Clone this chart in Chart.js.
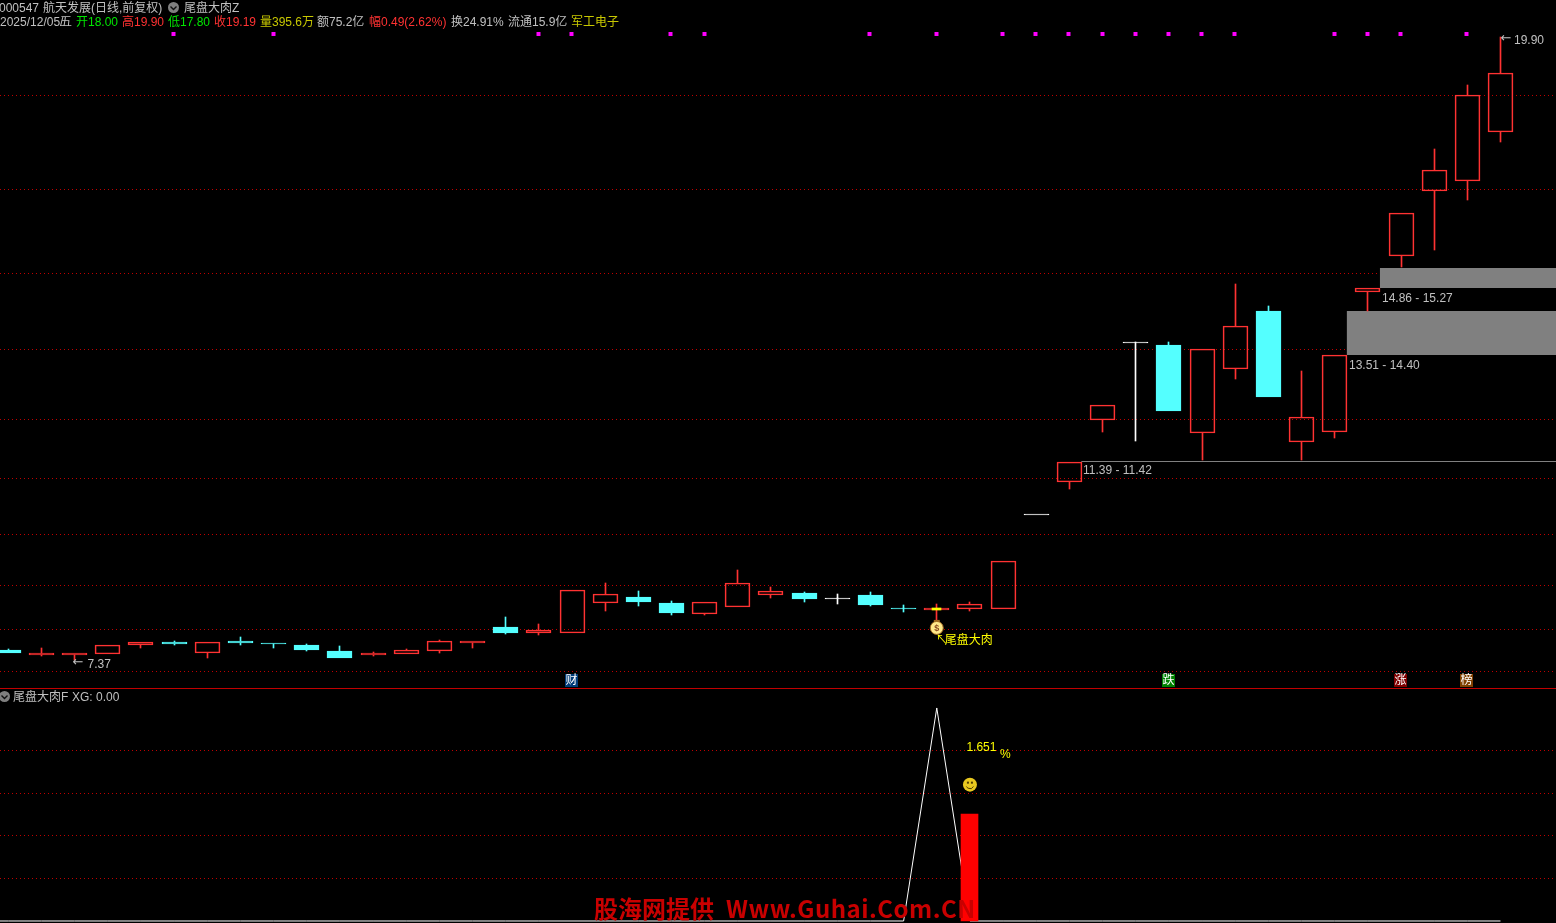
<!DOCTYPE html>
<html>
<head>
<meta charset="utf-8">
<title>000547 航天发展</title>
<script src="https://cdn.jsdelivr.net/npm/chart.js@4"></script>
<style>
  html, body { margin: 0; padding: 0; background: #000; width: 1556px; height: 923px; overflow: hidden; }
  body { position: relative; font: 12px "Liberation Sans", "Noto Sans CJK SC", sans-serif; color: #c0c0c0; }
  canvas { position: absolute; left: 0; display: block; }
  #mainChart { top: 0; }
  #subChart { top: 689px; }
  #rule { position: absolute; left: 0; top: 688px; width: 1556px; height: 1px; background: #c00000; }
  .t { position: absolute; white-space: nowrap; line-height: 14px; }
  .icon { position: absolute; width: 11px; height: 11px; }
  .mark { position: absolute; top: 891px; white-space: nowrap; color: #c80000;
          font: bold 24px/34px "Noto Sans CJK SC", sans-serif; }
</style>
</head>
<body>
<canvas id="mainChart" width="1556" height="688"></canvas>
<div id="rule"></div>
<canvas id="subChart" width="1556" height="234"></canvas>
<div id="head"></div>
<div class="mark" style="left:594px">股海网提供</div>
<div class="mark" style="left:726px;letter-spacing:0.5px">Www.Guhai.Com.CN</div>

<script>
// 日K数据，从左到右
const openPrice = [7.58, 7.47, 7.47, 7.49, 7.68, 7.74, 7.51, 7.76, 7.72, 7.68, 7.56, 7.47, 7.49, 7.56, 7.72, 8.04,
  7.92, 7.92, 8.52, 8.64, 8.52, 8.30, 8.44, 8.68, 8.72, 8.62, 8.68, 8.42, 8.38, 8.40, 8.40, 10.31,
  10.96, 12.20, 13.77, 13.71, 11.94, 13.23, 14.40, 11.76, 11.96, 14.78, 15.50, 16.81, 17.01, 18.00];
const closePrice = [7.51, 7.51, 7.51, 7.68, 7.74, 7.70, 7.74, 7.72, 7.70, 7.58, 7.41, 7.51, 7.58, 7.76, 7.76, 7.92,
  7.98, 8.78, 8.70, 8.54, 8.32, 8.54, 8.92, 8.76, 8.60, 8.62, 8.48, 8.41, 8.42, 8.50, 9.37, 10.31,
  11.36, 12.51, 13.77, 12.39, 13.63, 14.10, 12.67, 12.26, 13.51, 14.86, 16.37, 17.24, 18.74, 19.19];
const highPrice = [7.60, 7.62, 7.51, 7.68, 7.74, 7.76, 7.74, 7.84, 7.72, 7.70, 7.66, 7.53, 7.60, 7.78, 7.76, 8.24,
  8.10, 8.78, 8.92, 8.76, 8.56, 8.54, 9.19, 8.84, 8.74, 8.70, 8.74, 8.48, 8.50, 8.54, 9.37, 10.31,
  11.36, 12.51, 13.77, 13.77, 13.63, 14.94, 14.50, 13.19, 13.51, 14.86, 16.37, 17.66, 18.94, 19.90];
const lowPrice = [7.51, 7.45, 7.37, 7.49, 7.62, 7.68, 7.41, 7.68, 7.62, 7.56, 7.41, 7.45, 7.49, 7.51, 7.62, 7.90,
  7.88, 7.92, 8.36, 8.46, 8.28, 8.28, 8.44, 8.62, 8.54, 8.50, 8.46, 8.34, 8.18, 8.36, 8.40, 10.31,
  10.82, 11.96, 11.78, 12.39, 11.40, 13.03, 12.67, 11.40, 11.84, 14.40, 15.28, 15.62, 16.63, 17.80];
const dayIndex = openPrice.map((_, i) => i);

// 价位网格
const priceGrid = [18.74, 16.85, 15.16, 13.63, 12.22, 11.02, 9.89, 8.88, 7.98, 7.15];
const subGrid = [0.8, 0.6, 0.4, 0.2];

// 缺口区间
const zoneDay = [32, 40, 41];
const zoneLow = [11.39, 13.51, 14.86];
const zoneHigh = [11.42, 14.40, 15.27];

// 顶部品红信号点
const signalDays = [5, 8, 16, 17, 20, 21, 26, 28, 30, 31, 32, 33, 34, 35, 36, 37, 40, 41, 42, 44];
const signalLevel = 19.98;

// 底部事件标记
const badgeDays = [17, 35, 42, 44];
const badgeText = ['财', '跌', '涨', '榜'];
const badgeColor = ['#003c78', '#008000', '#800000', '#804000'];

// 选股日
const pickDay = 28;
const xgValue = [0, ...dayIndex.map(i => (i === pickDay ? 1 : 0))];
const gainBar = [0.5];
const gainLabel = '1.651';

// 顶部文字行
const headItems = [
  [-1, 1, '000547', '#c0c0c0'], [43, 1, '航天发展(日线,前复权)', '#c0c0c0'], [184, 1, '尾盘大肉Z', '#c0c0c0'],
  [0, 15, '2025/12/05/', '#c0c0c0'], [60, 15, '五', '#c0c0c0'],
  [76, 15, '开18.00', '#00e600'], [122, 15, '高19.90', '#ff3232'], [168, 15, '低17.80', '#00e600'], [214, 15, '收19.19', '#ff3232'],
  [260, 15, '量395.6万', '#c8c800'], [317, 15, '额75.2亿', '#c0c0c0'], [369, 15, '幅0.49(2.62%)', '#ff3232'],
  [451, 15, '换24.91%', '#c0c0c0'], [508, 15, '流通15.9亿', '#c0c0c0'], [571, 15, '军工电子', '#c8c800'],
  [13, 690, '尾盘大肉F', '#c0c0c0'], [72, 690, 'XG: 0.00', '#c0c0c0']
];
const head = document.getElementById('head');
headItems.forEach(([x, y, text, color]) => {
  const el = document.createElement('span');
  el.className = 't';
  el.style.cssText = `left:${x}px;top:${y}px;color:${color}`;
  el.textContent = text;
  head.appendChild(el);
});
[[168, 2], [-1, 691]].forEach(([x, y]) => {
  head.insertAdjacentHTML('beforeend', `<svg class="icon" style="left:${x}px;top:${y}px" viewBox="0 0 11 11">
    <circle cx="5.5" cy="5.5" r="5.5" fill="#808080"/><path d="M2.5 4.5 L5.5 7.5 L8.5 4.5" stroke="#101010" stroke-width="1.4" fill="none"/></svg>`);
});

const RED = '#ff3232';
const CYAN = '#54ffff';
const GREY = '#c0c0c0';
const BAND = '#808080';
const X_MIN = -0.25;
const X_MAX = 46.674;

function candleColor(i) {
  if (closePrice[i] > openPrice[i]) return RED;
  if (closePrice[i] < openPrice[i]) return CYAN;
  return '#ffffff';
}

const bodies = dayIndex.map(i => ({ x: i, y: [openPrice[i], closePrice[i]] }));
const upperWicks = dayIndex.filter(i => highPrice[i] > Math.max(openPrice[i], closePrice[i]))
  .map(i => ({ x: i, y: [Math.max(openPrice[i], closePrice[i]), highPrice[i]] }));
const lowerWicks = dayIndex.filter(i => lowPrice[i] < Math.min(openPrice[i], closePrice[i]))
  .map(i => ({ x: i, y: [lowPrice[i], Math.min(openPrice[i], closePrice[i])] }));

// K线实体和影线对齐到整像素，否则1px线会发虚
const snapPlugin = {
  id: 'snap',
  afterDatasetsUpdate(chart) {
    chart.getSortedVisibleDatasetMetas().forEach(meta => {
      const mode = meta.controller.getDataset().snapLine;
      if (meta.type === 'bar') {
        meta.data.forEach(el => {
          el.x = Math.round(el.x - el.width / 2) + el.width / 2;
          el.y = Math.round(el.y);
          el.base = Math.round(el.base);
          if (el.y === el.base) el.base = el.y + 1;
          el.height = el.base - el.y;
        });
      } else if (mode === 'edge') {
        meta.data.forEach(p => { p.y = Math.round(p.y); });
      } else if (mode === 'hair') {
        meta.data.forEach(p => { p.y = Math.ceil(p.y) + 0.5; });
      } else if (mode === 'dot') {
        meta.data.forEach(p => { p.x = Math.round(p.x) - 0.5; p.y = Math.round(p.y); });
      }
    });
  }
};

function zonePoints(price, k) {
  return [{ x: zoneDay[k] + 0.36, y: price }, { x: 48, y: price }];
}

function drawBag(ctx, x, y) {
  ctx.save();
  ctx.fillStyle = '#a06a20';
  ctx.fillRect(x - 3, y - 8, 6, 3);
  ctx.beginPath();
  ctx.arc(x, y, 6.5, 0, Math.PI * 2);
  ctx.fillStyle = '#ffe88a';
  ctx.fill();
  ctx.strokeStyle = '#a06a20';
  ctx.lineWidth = 1;
  ctx.stroke();
  ctx.fillStyle = '#8a4b20';
  ctx.font = 'bold 9px "Liberation Sans"';
  ctx.textAlign = 'center';
  ctx.textBaseline = 'middle';
  ctx.fillText('$', x, y + 0.5);
  ctx.restore();
}

const mainLabels = {
  id: 'mainLabels',
  afterDraw(chart) {
    const { ctx, scales: { x, y } } = chart;
    ctx.save();
    ctx.font = '12px "Liberation Sans", "Noto Sans CJK SC"';
    ctx.textBaseline = 'middle';
    ctx.fillStyle = GREY;
    zoneDay.forEach((d, k) => {
      const text = zoneLow[k].toFixed(2) + ' - ' + zoneHigh[k].toFixed(2);
      ctx.fillText(text, Math.round(x.getPixelForValue(d + 0.36)) + 2, Math.round(y.getPixelForValue(zoneLow[k])) + 11);
    });

    // 最低最高价标注
    const lowDay = lowPrice.indexOf(Math.min(...lowPrice));
    const highDay = highPrice.indexOf(Math.max(...highPrice));
    const lowX = x.getPixelForValue(lowDay);
    const lowY = y.getPixelForValue(lowPrice[lowDay]);
    const highX = x.getPixelForValue(highDay);
    const highY = y.getPixelForValue(highPrice[highDay]);
    ctx.fillText(lowPrice[lowDay].toFixed(2), lowX + 13, lowY + 4.5);
    ctx.fillText(highPrice[highDay].toFixed(2), highX + 13.5, highY + 3.5);
    ctx.font = '13px "DejaVu Sans"';
    ctx.fillText('←', lowX - 2, lowY + 2.5);
    ctx.fillText('←', highX, highY + 1);
    ctx.font = '12px "Liberation Sans", "Noto Sans CJK SC"';

    // 事件角标
    ctx.textAlign = 'center';
    badgeDays.forEach((d, k) => {
      const cx = Math.round(x.getPixelForValue(d));
      ctx.fillStyle = badgeColor[k];
      ctx.fillRect(cx - 7, 674, 13, 13);
      ctx.fillStyle = '#ffffff';
      ctx.fillText(badgeText[k], cx - 0.5, 681);
    });

    // 尾盘大肉 标记
    const px = x.getPixelForValue(pickDay);
    const py = y.getPixelForValue(lowPrice[pickDay]);
    drawBag(ctx, px, py + 8);
    ctx.textAlign = 'left';
    ctx.fillStyle = '#ffff00';
    ctx.fillText('↖', px - 1, py + 20.5);
    ctx.fillText('尾盘大肉', px + 8, py + 20.5);
    ctx.restore();
  }
};

new Chart(document.getElementById('mainChart'), {
  type: 'bar',
  plugins: [snapPlugin, mainLabels],
  data: {
    datasets: [
      {
        // 实体
        data: bodies, order: 3, barThickness: 25, borderWidth: 1, borderSkipped: false,
        borderColor: ctx => candleColor(ctx.dataIndex),
        backgroundColor: ctx => (closePrice[ctx.dataIndex] > openPrice[ctx.dataIndex] ? 'transparent' : candleColor(ctx.dataIndex))
      },
      { data: upperWicks, order: 4, barThickness: 1, backgroundColor: ctx => candleColor(ctx.raw.x) },
      { data: lowerWicks, order: 4, barThickness: 1, backgroundColor: ctx => candleColor(ctx.raw.x) },
      {
        // 选股日的黄色实体
        data: [{ x: pickDay, y: [openPrice[pickDay], closePrice[pickDay]] }],
        order: 2, barThickness: 9, backgroundColor: '#ffff00'
      },
      {
        type: 'line', data: zonePoints(zoneLow[0], 0), order: 6, snapLine: 'hair',
        borderColor: BAND, borderWidth: 1, pointRadius: 0
      },
      {
        type: 'line', data: zonePoints(zoneHigh[1], 1), order: 7, snapLine: 'edge',
        borderWidth: 0, pointRadius: 0, fill: '+1', backgroundColor: BAND
      },
      { type: 'line', data: zonePoints(zoneLow[1], 1), order: 7, snapLine: 'edge', borderWidth: 0, pointRadius: 0 },
      {
        type: 'line', data: zonePoints(zoneHigh[2], 2), order: 7, snapLine: 'edge',
        borderWidth: 0, pointRadius: 0, fill: '+1', backgroundColor: BAND
      },
      { type: 'line', data: zonePoints(zoneLow[2], 2), order: 7, snapLine: 'edge', borderWidth: 0, pointRadius: 0 },
      {
        type: 'line', data: signalDays.map(d => ({ x: d, y: signalLevel })), order: 1, snapLine: 'dot',
        showLine: false, pointStyle: 'rect', pointRadius: 2.83, pointBorderWidth: 0, pointBackgroundColor: '#ff00ff'
      }
    ]
  },
  options: {
    responsive: false,
    devicePixelRatio: 1,
    animation: false,
    layout: { padding: 0, autoPadding: false },
    datasets: { bar: { grouped: false } },
    plugins: { legend: { display: false }, tooltip: { enabled: false } },
    events: [],
    scales: {
      x: { type: 'linear', display: false, offset: false, min: X_MIN, max: X_MAX },
      y: {
        type: 'linear', min: 6.81, max: 20.6545,
        border: { display: false, dash: [1, 3] },
        ticks: { display: false },
        afterBuildTicks(axis) { axis.ticks = priceGrid.map(v => ({ value: v })); },
        grid: { color: '#c00000', lineWidth: 1, drawTicks: false }
      }
    }
  }
});

const subLabels = {
  id: 'subLabels',
  afterDraw(chart) {
    const { ctx, scales: { x, y } } = chart;
    const px = x.getPixelForValue(pickDay + 1);
    ctx.save();
    ctx.textBaseline = 'middle';
    ctx.font = '12px "Liberation Sans"';
    ctx.fillStyle = '#ffff00';
    ctx.fillText(gainLabel, px - 3.5, y.getPixelForValue(0.8) - 3);
    ctx.fillText('%', px + 30, y.getPixelForValue(0.8) + 4);
    // 笑脸
    const cy = y.getPixelForValue(0.64);
    ctx.beginPath();
    ctx.arc(px, cy, 7, 0, Math.PI * 2);
    ctx.fillStyle = '#e8c820';
    ctx.fill();
    ctx.fillStyle = '#503c00';
    ctx.fillRect(px - 3, cy - 3, 2, 2);
    ctx.fillRect(px + 1, cy - 3, 2, 2);
    ctx.beginPath();
    ctx.arc(px, cy, 4, 0.15 * Math.PI, 0.85 * Math.PI);
    ctx.strokeStyle = '#503c00';
    ctx.lineWidth = 1;
    ctx.stroke();
    ctx.restore();
  }
};

new Chart(document.getElementById('subChart'), {
  type: 'bar',
  plugins: [snapPlugin, subLabels],
  data: {
    datasets: [
      { data: gainBar.map(v => ({ x: pickDay + 1, y: [0, v] })), order: 1, barThickness: 17, backgroundColor: '#ff0000' },
      {
        type: 'line', order: 2, borderColor: '#ffffff', borderWidth: 1, pointRadius: 0, tension: 0,
        data: xgValue.map((v, i) => ({ x: i - 1, y: v }))
      }
    ]
  },
  options: {
    responsive: false,
    devicePixelRatio: 1,
    animation: false,
    layout: { padding: 0, autoPadding: false },
    datasets: { bar: { grouped: false } },
    plugins: { legend: { display: false }, tooltip: { enabled: false } },
    events: [],
    scales: {
      x: { type: 'linear', display: false, offset: false, min: X_MIN, max: X_MAX },
      y: {
        type: 'linear', min: -0.0094, max: 1.089,
        border: { display: false, dash: [1, 3] },
        ticks: { display: false },
        afterBuildTicks(axis) { axis.ticks = subGrid.map(v => ({ value: v })); },
        grid: { color: '#c00000', lineWidth: 1, drawTicks: false }
      }
    }
  }
});
</script>
</body>
</html>
